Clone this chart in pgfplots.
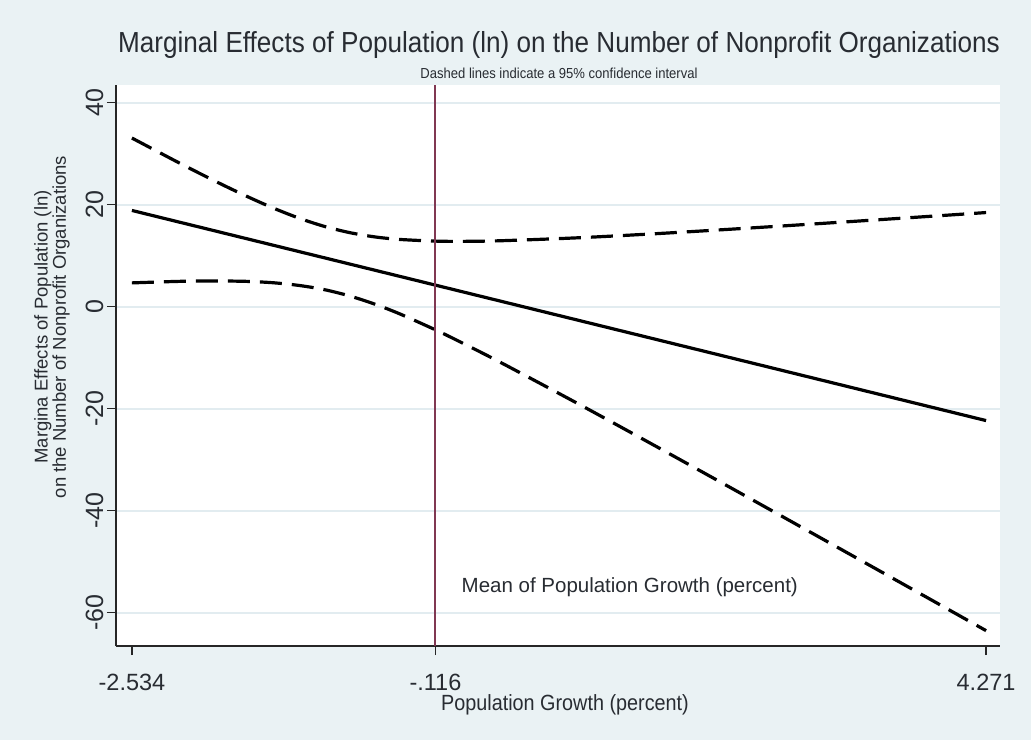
\documentclass[border=0pt]{standalone}
\usepackage{pgfplots}
\pgfplotsset{compat=1.18}
\usepackage{fontspec}
\setmainfont{Liberation Sans}
\newfontfamily\narrowfont[FakeStretch=0.9]{Liberation Sans}

\definecolor{bgcol}{RGB}{234,242,244}
\definecolor{gridcol}{RGB}{226,236,240}
\definecolor{meancol}{RGB}{128,56,82}
\definecolor{txtcol}{RGB}{40,44,50}

\begin{document}
\begin{tikzpicture}
  \fill[bgcol] (-116pt,-94pt) rectangle (915pt,646pt);
  \begin{axis}[
    scale only axis,
    width=884pt, height=561pt,
    xmin=-2.661, xmax=4.382,
    ymin=-66.5, ymax=43.5,
    axis background/.style={fill=white},
    axis x line*=bottom, axis y line*=left,
    axis line style={-, line width=1.4pt, black!85},
    xtick={-2.534,-0.116,4.271},
    xticklabels={-2.534,-.116,4.271},
    ytick={-60,-40,-20,0,20,40},
    yticklabels={-60,-40,-20,0,20,40},
    tick align=outside,
    major tick length=9pt,
    tick style={line width=1.2pt, black!85},
    ymajorgrids,
    grid style={line width=2pt, gridcol},
    xticklabel style={font=\fontsize{23.5}{25}\selectfont, text=txtcol, yshift=-16pt},
    yticklabel style={font=\fontsize{25}{27}\selectfont, text=txtcol, rotate=90, anchor=south, xshift=0pt},
  ]
    % confidence band and estimate
    \addplot[black, line width=3.2pt, dash pattern=on 22pt off 10pt, smooth] coordinates {
      (-2.534,33.10) (-2.2,28.77) (-2.0,26.24) (-1.8,23.79) (-1.6,21.46)
      (-1.4,19.29) (-1.2,17.37) (-1.0,15.77) (-0.8,14.56) (-0.6,13.72)
      (-0.4,13.22) (-0.116,12.89) (0.1,12.84) (0.4,12.96) (1.0,13.52)
      (1.6,14.29) (2.2,15.17) (2.8,16.10) (3.4,17.06) (4.0,18.04) (4.271,18.49)};
    \addplot[black, line width=3.2pt, dash pattern=on 22pt off 10pt, smooth] coordinates {
      (-2.534,4.70) (-2.2,4.97) (-2.0,5.06) (-1.8,5.07) (-1.6,4.98)
      (-1.4,4.71) (-1.2,4.19) (-1.0,3.37) (-0.8,2.14) (-0.6,0.54)
      (-0.4,-1.38) (-0.116,-4.51) (0.1,-7.10) (0.4,-10.86) (1.0,-18.72)
      (1.6,-26.79) (2.2,-34.97) (2.8,-43.20) (3.4,-51.46) (4.0,-59.74) (4.271,-63.49)};
    \addplot[black, line width=3.2pt] coordinates {(-2.534,18.9) (4.271,-22.3)};
    \addplot[meancol, line width=2.1pt] coordinates {(-0.116,-66.5) (-0.116,43.5)};
    \node[anchor=west, text=txtcol, font=\fontsize{20.5}{22}\selectfont] at (axis cs:0.065,-54.9) {Mean of Population Growth (percent)};
  \end{axis}
  \node[text=txtcol, font=\narrowfont\fontsize{29}{31}\selectfont] at (443pt,601pt) {Marginal Effects of Population (ln) on the Number of Nonprofit Organizations};
  \node[text=txtcol, font=\narrowfont\fontsize{14.5}{16}\selectfont] at (443pt,573pt) {Dashed lines indicate a 95\% confidence interval};
  \node[text=txtcol, font=\narrowfont\fontsize{22}{24}\selectfont] at (449pt,-59pt) {Population Growth (percent)};
  \node[text=txtcol, rotate=90, align=center, font=\fontsize{18.5}{15}\selectfont] at (-64pt,319pt) {Margina Effects of Population (ln)\\on the Number of Nonprofit Organizations};
\end{tikzpicture}
\end{document}
